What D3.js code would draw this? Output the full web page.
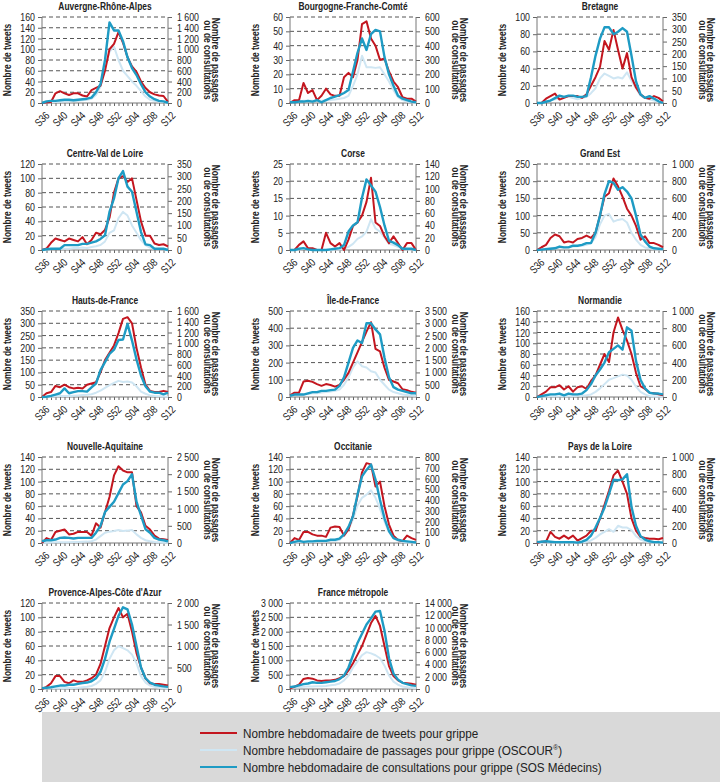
<!DOCTYPE html>
<html><head><meta charset="utf-8">
<script src="https://cdn.jsdelivr.net/npm/d3@7"></script>
<style>
body{margin:0;background:#fff;}
svg text{font-family:"Liberation Sans",Arial,sans-serif;fill:#222;}
</style></head><body>
<svg id="c" width="720" height="782"></svg>
<script>
const weeks = ["S36","S37","S38","S39","S40","S41","S42","S43","S44","S45","S46","S47","S48","S49","S50","S51","S52",
  "S01","S02","S03","S04","S05","S06","S07","S08","S09","S10","S11","S12"];
const regions = ["Auvergne-Rhône-Alpes","Bourgogne-Franche-Comté","Bretagne","Centre-Val de Loire","Corse","Grand Est",
  "Hauts-de-France","Île-de-France","Normandie","Nouvelle-Aquitaine","Occitanie","Pays de la Loire",
  "Provence-Alpes-Côte d'Azur","France métropole"];
const tweetMax  = [160,60,100,120,25,250,350,500,160,140,140,140,120,3000];
const tweetStep = [20,10,20,20,5,50,50,100,20,20,20,20,20,500];
const rightMax  = [1600,600,350,350,140,1000,1600,3500,1000,2500,800,1000,2000,14000];
const rightStep = [200,100,50,50,20,200,200,500,200,500,100,200,500,2000];

const tweetsData = [
  [0,1,2,18,22,18,15,18,18,14,12,24,28,32,60,100,110,132,112,85,68,58,40,28,20,16,14,13,2],
  [0,2,2,14,7,9,2,5,10,6,5,5,18,21,18,30,55,57,45,40,30,31,22,15,11,4,3,3,1],
  [0,0,5,8,11,4,6,8,8,8,6,10,20,30,42,72,62,85,62,40,58,30,18,10,6,5,8,6,2],
  [0,2,10,16,14,12,16,14,12,18,8,14,24,22,28,45,80,100,103,95,100,70,40,20,20,9,7,8,5],
  [0,0,1.5,2.5,0.5,0.5,0,0,5,2,1,2,0,3,7,8,10,14,21,8,7,4,2,4,2,0,2,2,0],
  [0,8,15,35,45,40,22,25,22,32,35,42,35,50,100,155,165,208,185,155,120,100,70,30,40,20,20,15,8],
  [0,15,20,45,40,50,40,35,38,35,50,55,60,100,150,180,210,260,318,325,300,200,120,50,25,20,20,25,20],
  [10,25,25,90,95,88,75,65,75,70,60,70,100,140,200,260,320,380,435,280,265,170,100,90,80,45,40,30,25],
  [0,5,10,18,18,22,14,20,10,18,20,15,30,40,60,80,65,120,148,125,105,80,45,20,15,8,7,5,3],
  [0,8,5,18,20,22,14,15,18,18,18,12,32,25,50,75,110,125,118,115,115,60,50,28,22,12,7,6,5],
  [0,8,5,18,18,14,12,12,10,25,27,26,12,22,45,76,115,130,128,92,100,60,30,12,5,3,12,8,5],
  [0,2,2,18,10,7,12,7,12,4,8,12,20,20,40,62,85,110,118,100,80,40,20,10,8,7,7,6,8],
  [0,3,8,18,18,10,8,12,10,10,12,15,20,35,60,85,100,113,100,105,80,50,30,15,8,7,7,6,5],
  [20,80,150,350,380,360,300,280,300,300,320,380,450,650,900,1200,1500,1900,2300,2550,2200,1500,800,450,300,220,200,180,150]
];
const passagesData = [
  [0,10,20,20,25,30,30,35,40,50,60,80,150,300,650,950,1050,800,600,500,400,320,220,120,60,40,30,20,5],
  [10,10,10,15,15,15,15,15,20,20,25,30,35,50,120,200,330,250,250,245,250,200,150,90,40,20,10,5,0],
  [0,0,5,10,15,20,25,25,20,15,20,25,40,60,100,120,110,100,105,100,125,90,60,30,20,15,10,5,3],
  [0,2,3,5,5,5,5,8,8,10,8,12,15,20,35,70,80,130,155,140,100,70,40,20,10,5,3,3,0],
  [0,0,1,2,1,0,0,0,0,0,1,1,2,5,10,18,22,30,50,35,30,20,10,8,5,2,1,1,0],
  [5,10,15,20,25,30,30,35,40,45,50,60,80,150,300,400,420,330,350,360,320,200,120,60,30,20,10,5,5],
  [0,5,10,15,20,20,20,25,30,35,40,50,80,120,170,220,260,300,280,290,270,200,100,60,30,20,15,10,5],
  [50,80,100,100,120,150,150,180,200,220,250,300,500,800,1200,1450,1250,1200,1050,1000,700,500,300,200,150,100,80,60,50],
  [0,5,5,10,10,10,10,10,10,15,15,20,30,60,100,150,200,220,240,260,250,200,120,60,30,10,5,5,3],
  [10,10,15,20,20,25,25,30,30,35,40,50,100,200,300,330,350,380,350,360,380,250,150,80,50,30,20,10,10],
  [0,5,10,10,10,10,15,15,15,20,20,30,70,130,220,350,420,450,490,420,320,200,100,50,20,10,5,5,0],
  [0,0,5,5,5,5,5,5,5,5,10,15,30,60,100,130,160,130,200,180,180,150,80,40,20,10,5,5,0],
  [10,10,15,20,20,20,25,25,30,40,50,70,120,200,400,700,900,1000,950,900,800,600,300,150,80,50,30,20,10],
  [200,250,300,350,400,400,450,450,500,600,700,900,1400,2200,3500,4500,5500,6000,5800,5500,5000,3800,2200,1200,700,400,300,200,150]
];
const consultData = [
  [0,30,40,40,50,60,60,50,60,70,80,100,200,350,800,1500,1350,1350,1150,850,650,520,350,200,120,70,40,30,5],
  [5,5,10,10,15,10,20,5,20,35,45,55,70,90,220,350,450,370,480,510,500,320,200,120,50,30,20,10,5],
  [0,0,5,10,20,30,25,30,30,25,25,28,105,192,262,308,308,280,290,305,290,192,88,35,21,28,18,7,0],
  [0,3,5,5,5,20,20,20,20,25,25,30,35,45,60,155,210,292,321,258,237,156,73,23,20,5,5,5,0],
  [0,0,2,3,1,0,0,0,0,1,2,3,8,30,40,45,85,115,105,95,70,40,15,12,8,2,2,2,0],
  [0,5,10,15,20,40,30,30,50,50,60,80,80,200,400,650,800,780,700,730,680,600,400,180,100,40,20,15,10],
  [0,5,20,45,70,160,70,90,110,110,100,180,250,500,650,800,880,1060,1070,1360,1050,700,400,200,100,80,80,50,80],
  [50,100,100,100,150,200,200,250,250,280,300,450,800,1400,2000,2300,2200,3000,3000,2750,2550,1600,800,400,300,250,200,150,150],
  [0,10,20,30,30,40,20,40,30,30,40,80,150,250,320,400,520,560,600,550,810,770,420,200,100,50,40,40,30],
  [50,80,80,100,150,160,150,130,150,150,150,150,300,500,900,1050,1200,1450,1700,1800,2000,1200,800,400,300,150,100,80,50],
  [0,10,20,10,15,15,20,20,20,30,30,40,80,150,250,450,620,680,730,590,400,230,110,45,30,20,15,10,5],
  [10,15,20,15,10,10,10,10,10,5,15,36,86,180,290,410,570,735,730,740,800,420,200,80,40,20,10,10,5],
  [20,30,40,60,80,80,100,100,120,140,150,180,250,400,700,1100,1400,1700,1900,1850,1500,1000,500,250,150,100,80,60,50],
  [300,400,600,800,900,1100,1000,1000,1100,1200,1300,1600,2200,3500,5500,7500,9000,10500,11500,12600,12700,9500,5000,2500,1500,1000,800,600,500]
];
const legendLabels = ["Nombre hebdomadaire de tweets  pour grippe",
  "Nombre hebdomadaire de passages pour grippe  (OSCOUR",
  "Nombre hebdomadaire de consultations pour grippe  (SOS Médecins)"];

const colRed = "#c3161f", colLight = "#cfe6f3", colTeal = "#1e9bc4";
const SX = 0.8;
const svg = d3.select("#c");
const loc = d3.formatLocale({decimal:",", thousands:"\u00a0", grouping:[3], currency:["","€"]});
const fmt = loc.format(",d");
const colX = [42, 290, 537], rowTop = [17, 164, 311, 457, 603], PW = 126, PH = 86;

function condense(sel) {
  sel.each(function() {
    const t = d3.select(this);
    const x = +t.attr("x") || 0, y = +t.attr("y") || 0;
    t.attr("x", 0).attr("y", 0).attr("transform", `translate(${x},${y}) scale(${SX},1)`);
  });
}

regions.forEach((name, i) => {
  const col = i % 3, row = Math.floor(i / 3);
  const L = colX[col], T = rowTop[row], B = T + PH, R = L + PW;
  const g = svg.append("g");
  const x = d3.scalePoint().domain(weeks).range([L, R]);
  const yL = d3.scaleLinear().domain([0, tweetMax[i]]).range([B, T]);
  const yR = d3.scaleLinear().domain([0, rightMax[i]]).range([B, T]);
  const lt = d3.range(0, tweetMax[i] + 1e-9, tweetStep[i]);
  const rt = d3.range(0, rightMax[i] + 1e-9, rightStep[i]);

  g.selectAll(".grid").data(lt.filter(v => v > 0)).join("line")
    .attr("x1", L).attr("x2", R).attr("y1", d => yL(d)).attr("y2", d => yL(d))
    .attr("stroke", "#555").attr("stroke-width", 1).attr("stroke-dasharray", "4,3");

  const ga = g.append("g").attr("transform", `translate(${L},0)`)
    .call(d3.axisLeft(yL).tickValues(lt).tickSize(4).tickPadding(3).tickFormat(fmt));
  ga.select(".domain").remove();
  ga.selectAll("line").attr("stroke", "#666");
  ga.selectAll("text").attr("font-size", 11).attr("font-family", null).style("fill", "#222").call(condense);

  const gr = g.append("g").attr("transform", `translate(${R},0)`)
    .call(d3.axisRight(yR).tickValues(rt).tickSize(4).tickPadding(5).tickFormat(fmt));
  gr.select(".domain").remove();
  gr.selectAll("line").attr("stroke", "#666");
  gr.selectAll("text").attr("font-size", 11).attr("font-family", null).style("fill", "#222").call(condense);

  const gb = g.append("g").attr("transform", `translate(0,${B})`)
    .call(d3.axisBottom(x).tickSize(3).tickFormat(""));
  gb.select(".domain").remove();
  gb.selectAll("line").attr("stroke", "#666");
  g.selectAll(".xl").data(weeks.filter((w, j) => j % 4 === 0)).join("text")
    .attr("transform", d => `translate(${x(d)},${B + 16}) rotate(-45) scale(${SX},1)`)
    .attr("text-anchor", "middle").attr("dy", "0.35em").attr("font-size", 11).text(d => d);

  g.append("line").attr("x1", L).attr("x2", L).attr("y1", T).attr("y2", B).attr("stroke", "#777");
  g.append("line").attr("x1", R).attr("x2", R).attr("y1", T).attr("y2", B).attr("stroke", "#777");
  g.append("line").attr("x1", L).attr("x2", R).attr("y1", B).attr("y2", B).attr("stroke", "#777");

  const lineL = d3.line().x((d, j) => x(weeks[j])).y(d => yL(d));
  const lineR = d3.line().x((d, j) => x(weeks[j])).y(d => yR(d));
  g.append("path").attr("d", lineR(passagesData[i])).attr("fill", "none")
    .attr("stroke", colLight).attr("stroke-width", 2).attr("stroke-linejoin", "round");
  g.append("path").attr("d", lineL(tweetsData[i])).attr("fill", "none")
    .attr("stroke", colRed).attr("stroke-width", 2).attr("stroke-linejoin", "round");
  g.append("path").attr("d", lineR(consultData[i])).attr("fill", "none")
    .attr("stroke", colTeal).attr("stroke-width", 2.4).attr("stroke-linejoin", "round");

  g.append("text").attr("transform", `translate(${(L + R) / 2},${T - 7}) scale(${SX},1)`).attr("text-anchor", "middle")
    .attr("font-size", 10.5).attr("font-weight", "bold").text(name);
  const cy = (T + B) / 2;
  g.append("text").attr("transform", `translate(${L - 31},${cy}) rotate(-90) scale(${SX},1)`)
    .attr("text-anchor", "middle").attr("font-size", 10.5).attr("font-weight", "bold").text("Nombre de tweets");
  g.append("text").attr("transform", `translate(${R + 44},${cy}) rotate(90) scale(${SX},1)`)
    .attr("text-anchor", "middle").attr("font-size", 10.5).attr("font-weight", "bold").text("Nombre de passages");
  g.append("text").attr("transform", `translate(${R + 36},${cy}) rotate(90) scale(${SX},1)`)
    .attr("text-anchor", "middle").attr("font-size", 10.5).attr("font-weight", "bold").text("ou de consultations");
});

const lg = svg.append("g");
lg.append("rect").attr("x", 42).attr("y", 712).attr("width", 678).attr("height", 70).attr("fill", "#d9d9d9");
const lcols = [colRed, colLight, colTeal];
legendLabels.forEach((t, k) => {
  const y = 733 + k * 17;
  lg.append("line").attr("x1", 200).attr("x2", 237).attr("y1", y).attr("y2", y)
    .attr("stroke", lcols[k]).attr("stroke-width", 2.2);
  const tx = lg.append("text").attr("transform", `translate(243,${y + 4.5}) scale(0.9,1)`)
    .attr("font-size", 13).text(t);
  if (k === 1) {
    tx.append("tspan").attr("font-size", 8).attr("dy", -5).text("®");
    tx.append("tspan").attr("dy", 5).text(")");
  }
});
</script></body></html>
